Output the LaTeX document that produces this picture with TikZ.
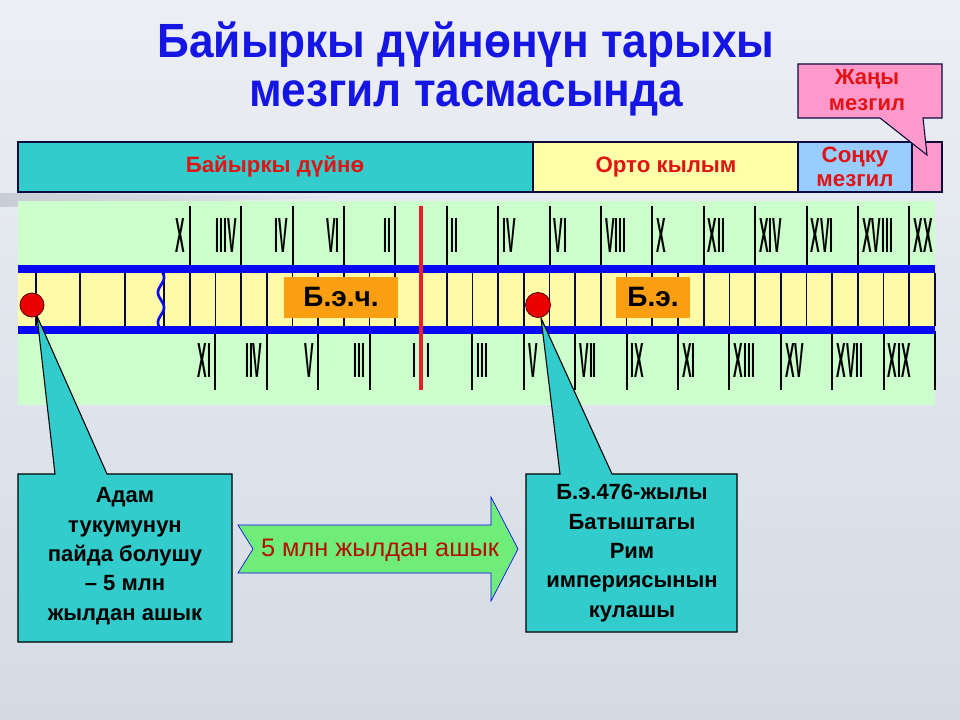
\documentclass[tikz,border=0pt]{standalone}
\usepackage{fontspec}
\usepackage{graphicx}
\setmainfont{Liberation Sans}
\definecolor{bgtop}{RGB}{236,239,244}
\definecolor{bgbot}{RGB}{212,219,229}
\definecolor{swoosh}{RGB}{200,204,212}
\definecolor{titleblue}{RGB}{22,22,228}
\definecolor{cyanbox}{RGB}{51,204,204}
\definecolor{baryellow}{RGB}{255,255,170}
\definecolor{barblue}{RGB}{153,204,255}
\definecolor{barpink}{RGB}{255,153,204}
\definecolor{labred}{RGB}{225,20,20}
\definecolor{panelgreen}{RGB}{204,255,204}
\definecolor{stripyellow}{RGB}{255,250,168}
\definecolor{bandblue}{RGB}{8,8,245}
\definecolor{divnavy}{RGB}{10,10,60}
\definecolor{zerored}{RGB}{232,30,40}
\definecolor{orangebox}{RGB}{250,158,18}
\definecolor{arrowgreen}{RGB}{112,236,122}
\definecolor{arrowtext}{RGB}{180,15,0}
\definecolor{dotred}{RGB}{235,0,0}
\newcommand\rn[1]{\scalebox{0.29}[1]{\bfseries\fontsize{37}{37}\selectfont #1}}
\newcommand\tline[1]{\scalebox{0.92}[1]{#1}}
\begin{document}
\begin{tikzpicture}[x=0.75pt,y=-0.75pt,
  bartext/.style={text=labred,font=\bfseries\fontsize{16.7}{18}\selectfont,align=center,inner sep=0pt},
  boxtext/.style={text=black,font=\bfseries\fontsize{16.5}{22}\selectfont,align=center,inner sep=0pt},
  tickline/.style={black,line width=1.5pt},
  divline/.style={divnavy,line width=1.3pt},
  numlab/.style={inner sep=0pt},
  titletext/.style={font=\bfseries\fontsize{36}{36}\selectfont,text=titleblue,anchor=base,inner sep=0pt},
  callout/.style={fill=cyanbox,draw=black,line width=0.8pt,line join=miter},
  eralab/.style={fill=orangebox,font=\bfseries\fontsize{21}{21}\selectfont,text=black,inner sep=0pt}]
\useasboundingbox (0,0) rectangle (960,720);
% background
\shade[top color=bgtop,bottom color=bgbot] (0,0) rectangle (960,720);
\shade[left color=swoosh,right color=bgbot!50!bgtop] (0,193) -- (330,196) -- (330,198) -- (0,207) -- cycle;
% title
\node[titletext] (title1) at (466,58) {\tline{Байыркы дүйнөнүн тарыхы}};
\node[titletext] (title2) at (466,107) {\tline{мезгил тасмасында}};
% top era bar
\filldraw[fill=cyanbox,draw=divnavy,line width=0.8pt] (18,142) rectangle (533,192);
\filldraw[fill=baryellow,draw=divnavy,line width=0.8pt] (533,142) rectangle (798,192);
\filldraw[fill=barblue,draw=divnavy,line width=0.8pt] (798,142) rectangle (912,192);
\filldraw[fill=barpink,draw=divnavy,line width=0.8pt] (912,142) rectangle (942,192);
\node[bartext] (era1) at (275,167) {Байыркы дүйнө};
\node[bartext] (era2) at (666,167) {Орто кылым};
\node[bartext] (era3) at (855,167) {Соңку\\мезгил};
% new era callout
\filldraw[fill=barpink,draw=divnavy,line width=0.8pt,line join=miter] (798,64) -- (942,64) -- (942,118) -- (923,118) -- (927,155) -- (880,118) -- (798,118) -- cycle;
\node[text=labred,font=\bfseries\fontsize{16.5}{19.5}\selectfont,align=center,inner sep=0pt] (era4) at (867,90) {Жаңы\\мезгил};
% timeline panel
\fill[panelgreen] (18,201) rectangle (935,405);
\fill[stripyellow] (18,273) rectangle (935,326);
% dividers inside the strip
\foreach \x in {36,80,125,164} \draw[divline] (\x,273) -- (\x,326);
\foreach \j in {-9,...,20} \draw[divline] ({421+25.7*\j},273) -- ({421+25.7*\j},326);
% ticks
\foreach \j in {-9,-7,...,19} \draw[tickline] ({421+25.7*\j},206) -- ({421+25.7*\j},268);
\foreach \j in {-8,-6,...,20} \draw[tickline] ({421+25.7*\j},331) -- ({421+25.7*\j},390);
% bands
\fill[bandblue] (18,265) rectangle (935,273);
\fill[bandblue] (18,326) rectangle (935,334);
\draw[bandblue,line width=2pt] plot[domain=270:330,samples=50] ({161+3*sin((\x-270)*12)},\x);
% numerals BC (mirrored as printed)
\foreach \j/\t [count=\i] in {-9/X,-7/IIIV,-5/IV,-3/VI,-1/II}
  \node[numlab,anchor=base east] (tbc\i) at ({421+25.7*\j-4},253) {\rn{\t}};
\foreach \j/\t [count=\i] in {-8/XI,-6/IIV,-4/V,-2/III}
  \node[numlab,anchor=base east] (bbc\i) at ({421+25.7*\j-4},377) {\rn{\t}};
\node[numlab,anchor=base east] (bbc5) at (417,377) {\rn{I}};
% numerals AD
\foreach \j/\t [count=\i] in {1/II,3/IV,5/VI,7/VIII,9/X,11/XII,13/XIV,15/XVI,17/XVIII,19/XX}
  \node[numlab,anchor=base west] (tad\i) at ({421+25.7*\j+4},253) {\rn{\t}};
\foreach \j/\t [count=\i] in {2/III,4/V,6/VII,8/IX,10/XI,12/XIII,14/XV,16/XVII,18/XIX}
  \node[numlab,anchor=base west] (bad\i) at ({421+25.7*\j+4},377) {\rn{\t}};
\node[numlab,anchor=base west] (bad0) at (426,377) {\rn{I}};
% zero line
\draw[zerored,line width=3pt] (421,206) -- (421,390);
% era labels
\node[eralab,minimum width=85.5pt,minimum height=30.75pt] (bc) at (341,297.5) {Б.э.ч.};
\node[eralab,minimum width=55.5pt,minimum height=30.75pt] (ad) at (653,297.5) {Б.э.};
% bottom callouts
\coordinate (dotL) at (32,305);
\coordinate (dotR) at (538,305);
\path[callout] (18,474) -- (55,474) -- (37,316) -- (107,474) -- (232,474) -- (232,642) -- (18,642) -- cycle;
\path[callout] (526,474) -- (560,474) -- (541,318) -- (612,474) -- (737,474) -- (737,632) -- (526,632) -- cycle;
\filldraw[fill=dotred,draw=black!70!red,line width=0.6pt] (dotL) circle (12);
\filldraw[fill=dotred,draw=black!70!red,line width=0.6pt] (dotR) circle (12.5);
\node[boxtext] (leftbox) at (125,556) {Адам\\тукумунун\\пайда болушу\\– 5 млн\\жылдан ашык};
\node[boxtext] (rightbox) at (632,553) {Б.э.476-жылы\\Батыштагы\\Рим\\империясынын\\кулашы};
% arrow
\filldraw[fill=arrowgreen,draw=bandblue,line width=0.5pt,line join=miter] (238,525) -- (491,525) -- (491,497) -- (518,549) -- (491,601) -- (491,573) -- (238,573) -- (253,549) -- cycle;
\node[text=arrowtext,font=\fontsize{19}{19}\selectfont,inner sep=0pt] (arrowlab) at (380,550) {5 млн жылдан ашык};
\end{tikzpicture}
\end{document}
